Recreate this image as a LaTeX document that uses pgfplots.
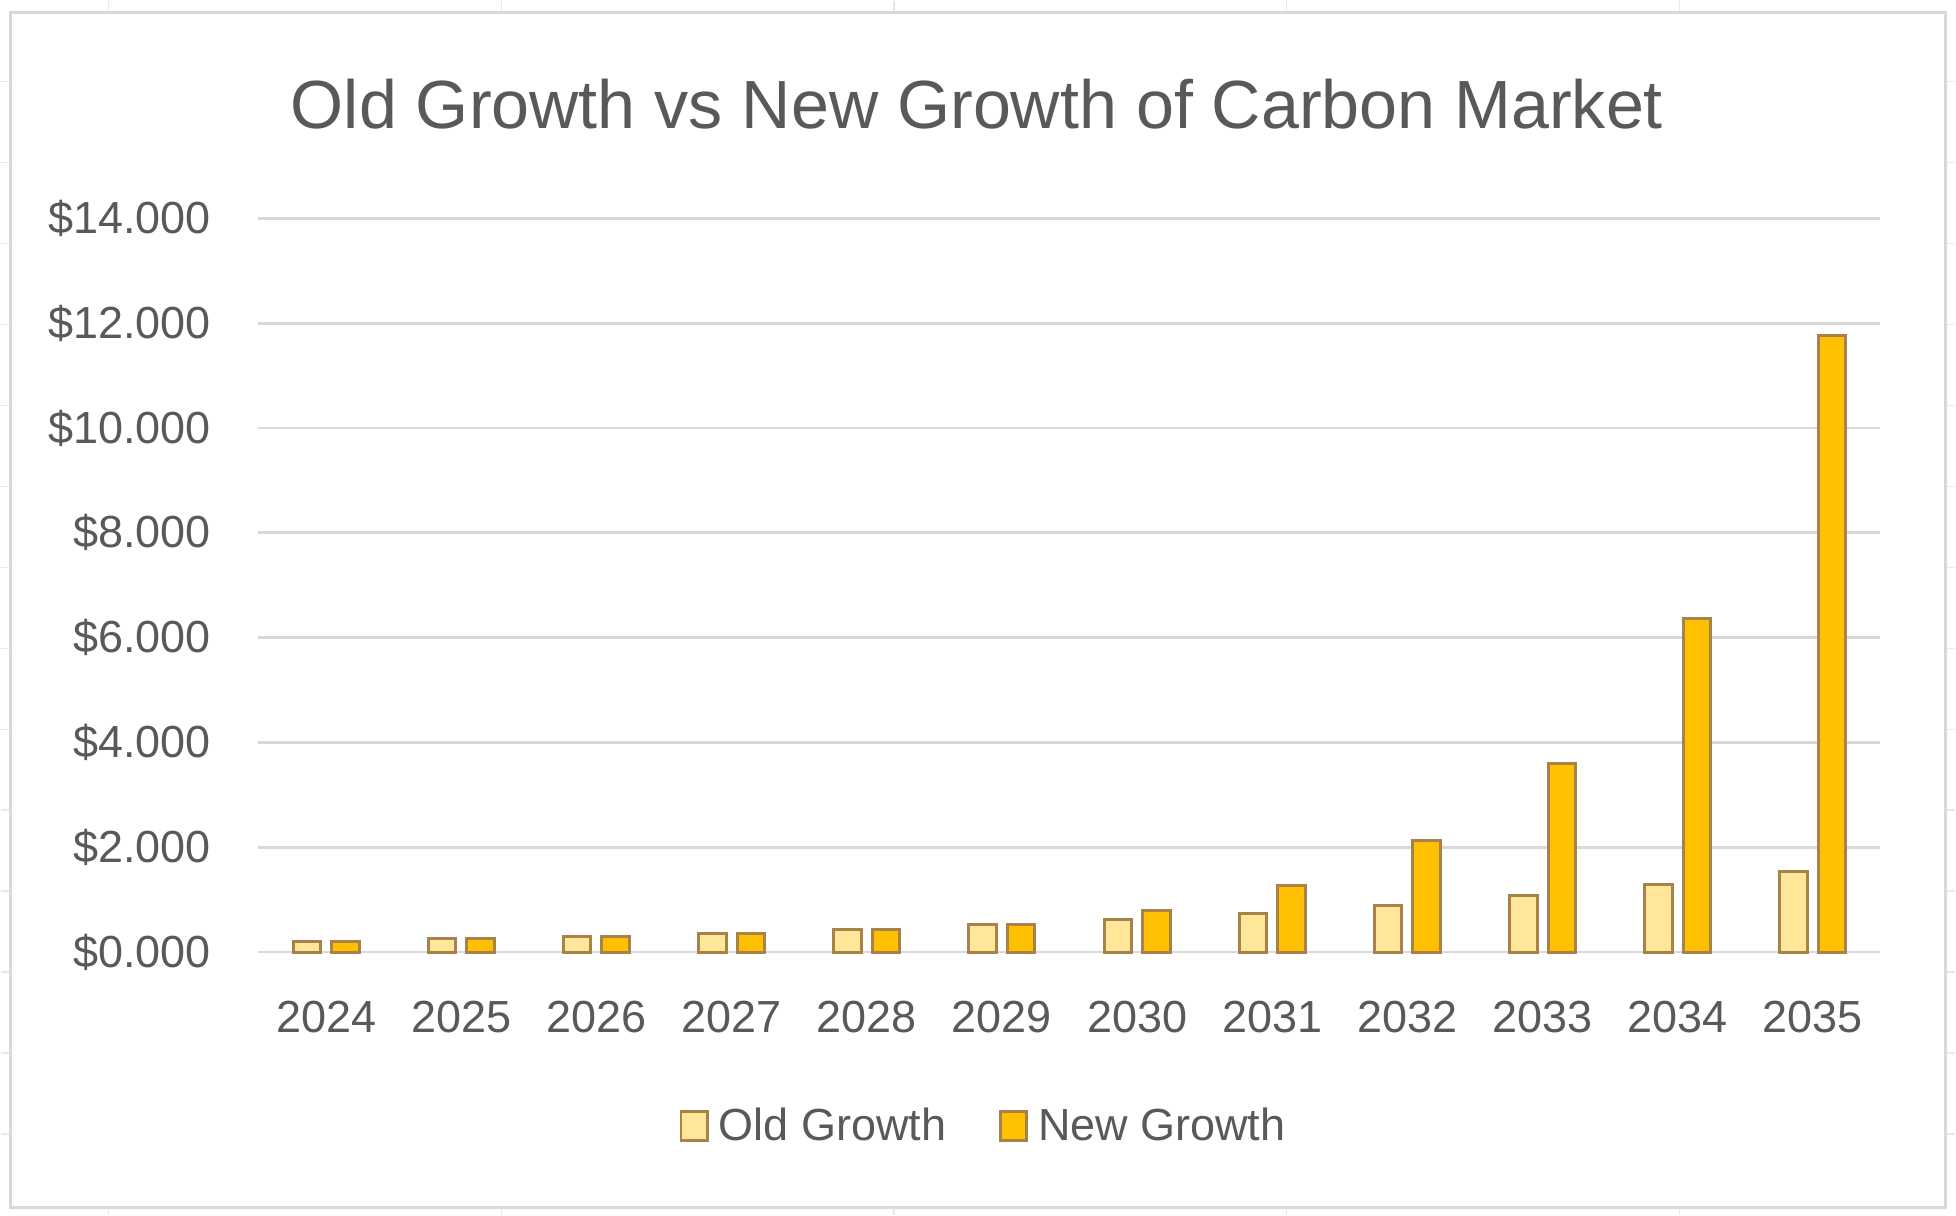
\documentclass[border=0pt]{standalone}
\usepackage{pgfplots}
\pgfplotsset{compat=1.18}
\usepackage{fontspec}
\setmainfont{Liberation Sans}
\begin{document}
\begin{tikzpicture}[x=0.4pt,y=0.4pt]
    \definecolor{txtgray}{RGB}{89,89,89}
    \definecolor{gridgray}{RGB}{217,217,217}
    \definecolor{oldfill}{RGB}{255,230,153}
    \definecolor{newfill}{RGB}{255,192,0}
    \definecolor{baredge}{RGB}{168,130,72}

    % page and chart frame
    \fill[white] (0,0) rectangle (1956,1215);
    \foreach \xx in {108,501,894,1287,1680} {
        \draw[gridgray!60, line width=0.5pt] (\xx,1203) -- (\xx,1215);
        \draw[gridgray!60, line width=0.5pt] (\xx,0) -- (\xx,7);
    }
    \foreach \yy in {1134,1053,972,891,810,729,648,567,486,405,324,243,162,81} {
        \draw[gridgray!60, line width=0.5pt] (1946,\yy) -- (1956,\yy);
        \draw[gridgray!60, line width=0.5pt] (0,\yy) -- (10,\yy);
    }
    \draw[gridgray, line width=1.2pt] (10,7) rectangle (1946,1203);

    \node[text=txtgray, font=\fontsize{27.3}{31}\selectfont] at (977,1111)
        {Old Growth vs New Growth of Carbon Market};

    \begin{axis}[
        at={(103.2pt,105.2pt)}, anchor=south west,
        scale only axis,
        width=649.2pt, height=293.6pt,
        ybar=4.4pt, bar width=11pt,
        xmin=-0.5, xmax=11.5,
        ymin=0, ymax=14,
        xtick={0,...,11},
        xticklabels={2024,2025,2026,2027,2028,2029,2030,2031,2032,2033,2034,2035},
        ytick={0,2,...,14},
        yticklabels={\$0.000,\$2.000,\$4.000,\$6.000,\$8.000,\$10.000,\$12.000,\$14.000},
        tick style={draw=none},
        axis line style={draw=none},
        ymajorgrids,
        grid style={gridgray, line width=1.1pt},
        ticklabel style={text=txtgray, font=\fontsize{18}{21}\selectfont},
        yticklabel style={xshift=-15.5pt},
        xticklabel style={yshift=-12pt},
        clip=false,
        legend columns=2,
        legend style={
            at={(0.448,-0.237)}, anchor=center,
            draw=none, fill=none,
            font=\fontsize{18}{21}\selectfont, text=txtgray,
            /tikz/every odd column/.append style={column sep=2pt},
            /tikz/every even column/.append style={column sep=19pt},
        },
        legend image code/.code={
            \draw[#1, line width=1.1pt] (0pt,-5.8pt) rectangle (10.6pt,5.8pt);
        },
    ]
        \addplot[draw=baredge, line width=1.2pt, fill=oldfill] coordinates {
            (0,0.20) (1,0.26) (2,0.30) (3,0.36) (4,0.43) (5,0.53)
            (6,0.62) (7,0.74) (8,0.89) (9,1.08) (10,1.29) (11,1.54)
        };
        \addplot[draw=baredge, line width=1.2pt, fill=newfill] coordinates {
            (0,0.20) (1,0.26) (2,0.30) (3,0.36) (4,0.43) (5,0.53)
            (6,0.80) (7,1.27) (8,2.12) (9,3.60) (10,6.36) (11,11.76)
        };
        \legend{Old Growth, New Growth}
    \end{axis}
\end{tikzpicture}
\end{document}
